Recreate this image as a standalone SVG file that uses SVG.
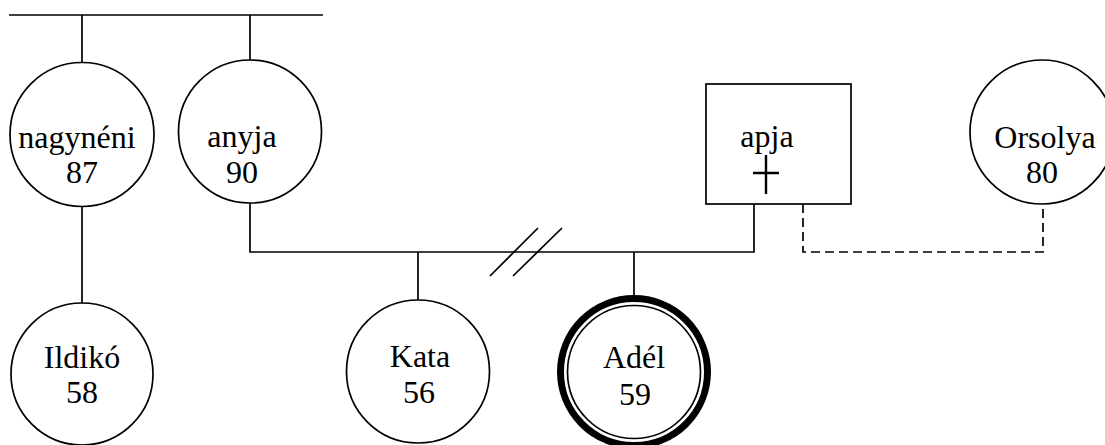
<svg xmlns="http://www.w3.org/2000/svg" width="1105" height="445" viewBox="0 0 1105 445">
  <style>
    .ln { stroke: #000; stroke-width: 1.7; fill: none; }
    .dash { stroke: #000; stroke-width: 1.7; fill: none; stroke-dasharray: 9 5; }
    .shape { stroke: #000; stroke-width: 1.7; fill: #fff; }
    .lbl { font-family: "Liberation Serif", "Times New Roman", serif; font-size: 32px; fill: #000; text-anchor: middle; }
  </style>
  <rect width="1105" height="445" fill="#fff"/>

  <!-- connectors -->
  <g id="connectors">
    <!-- sibling line of the older generation -->
    <path class="ln" d="M9 15 H323 M82 15 V62 M250 15 V60"/>
    <!-- aunt to daughter -->
    <path class="ln" d="M82 206 V303"/>
    <!-- parents' couple line -->
    <path class="ln" d="M250 202 V252 H754 V204"/>
    <!-- children drop lines -->
    <path class="ln" d="M418 252 V300 M634 252 V295"/>
    <!-- divorce mark -->
    <path class="ln" d="M490 276 L538 228 M513 276 L562 228"/>
    <!-- partnership of the father (dashed) -->
    <path class="dash" d="M803 204 V252 H1043 V204"/>
  </g>

  <g id="node-nagyneni">
    <circle class="shape" cx="82" cy="134.5" r="72"/>
    <text class="lbl" x="77" y="148">nagynéni</text>
    <text class="lbl" x="82" y="183">87</text>
  </g>

  <g id="node-anyja">
    <circle class="shape" cx="250" cy="131.5" r="71.5"/>
    <text class="lbl" x="242" y="147">anyja</text>
    <text class="lbl" x="242" y="183">90</text>
  </g>

  <g id="node-apja">
    <rect class="shape" x="706" y="84" width="145" height="120"/>
    <text class="lbl" x="767" y="147">apja</text>
    <!-- deceased mark -->
    <path d="M766 155 V194 M753 173 H779" stroke="#000" stroke-width="2.4" fill="none"/>
  </g>

  <g id="node-orsolya">
    <circle class="shape" cx="1042" cy="132" r="72"/>
    <text class="lbl" x="1045" y="148">Orsolya</text>
    <text class="lbl" x="1042" y="183">80</text>
  </g>

  <g id="node-ildiko">
    <circle class="shape" cx="82" cy="374" r="71"/>
    <text class="lbl" x="82" y="368">Ildikó</text>
    <text class="lbl" x="82" y="403">58</text>
  </g>

  <g id="node-kata">
    <circle class="shape" cx="418" cy="371.5" r="71.5"/>
    <text class="lbl" x="420" y="367">Kata</text>
    <text class="lbl" x="419" y="403">56</text>
  </g>

  <g id="node-adel">
    <circle cx="634" cy="372" r="73.5" stroke="#000" stroke-width="7" fill="#fff"/>
    <circle class="shape" cx="634" cy="372" r="66.5"/>
    <text class="lbl" x="634" y="368">Adél</text>
    <text class="lbl" x="635" y="405">59</text>
  </g>
</svg>
